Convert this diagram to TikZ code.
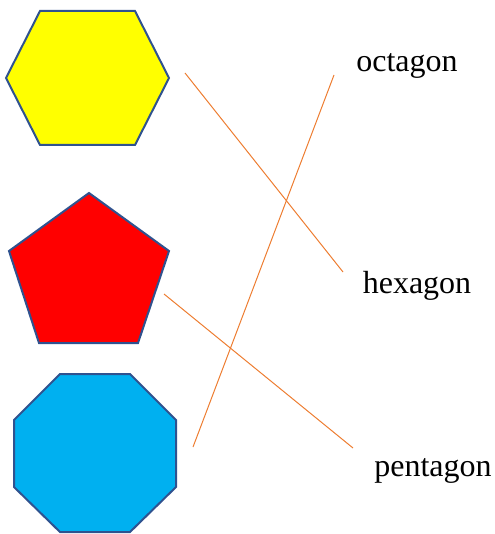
\documentclass[tikz,border=0pt]{standalone}
\usepackage{fontspec}
\setmainfont{Liberation Serif}
\definecolor{edgeblue}{HTML}{2F528F}
\definecolor{lineorange}{HTML}{ED7D31}
\definecolor{octblue}{HTML}{00B0F0}
\definecolor{hexyellow}{RGB}{255,255,0}
\definecolor{penred}{RGB}{255,0,0}
\begin{document}
\begin{tikzpicture}[x=1pt,y=-1pt,
  shapeedge/.style={draw=edgeblue,line width=2pt,line join=miter},
  label/.style={inner sep=0pt,anchor=base,font=\fontsize{32}{38}\selectfont},
  link/.style={draw=lineorange,line width=1pt}]
\useasboundingbox (0,0) rectangle (494,534);
% hexagon
\path[shapeedge,fill=hexyellow] (6,78) -- (40,11) -- (135,11) -- (169,78) -- (135,145) -- (40,145) -- cycle;
% pentagon
\path[shapeedge,fill=penred] (89,193) -- (169,251) -- (138,343) -- (39,343) -- (9,251) -- cycle;
% octagon
\path[shapeedge,fill=octblue] (60,374) -- (130,374) -- (176,420) -- (176,487) -- (130,532) -- (60,532) -- (14,487) -- (14,420) -- cycle;
% labels
\node[label] (oct) at (407,72) {octagon};
\node[label] (hex) at (417,293) {hexagon};
\node[label] (pen) at (433,476) {pentagon};
% connector ends
\coordinate (hexR) at (185,73);
\coordinate (penR) at (164,294);
\coordinate (octR) at (193,447);
\coordinate (octL) at (334,75);
\coordinate (hexL) at (343,272);
\coordinate (penL) at (353,448);
\draw[link] (hexR) -- (hexL);
\draw[link] (octR) -- (octL);
\draw[link] (penR) -- (penL);
\end{tikzpicture}
\end{document}
